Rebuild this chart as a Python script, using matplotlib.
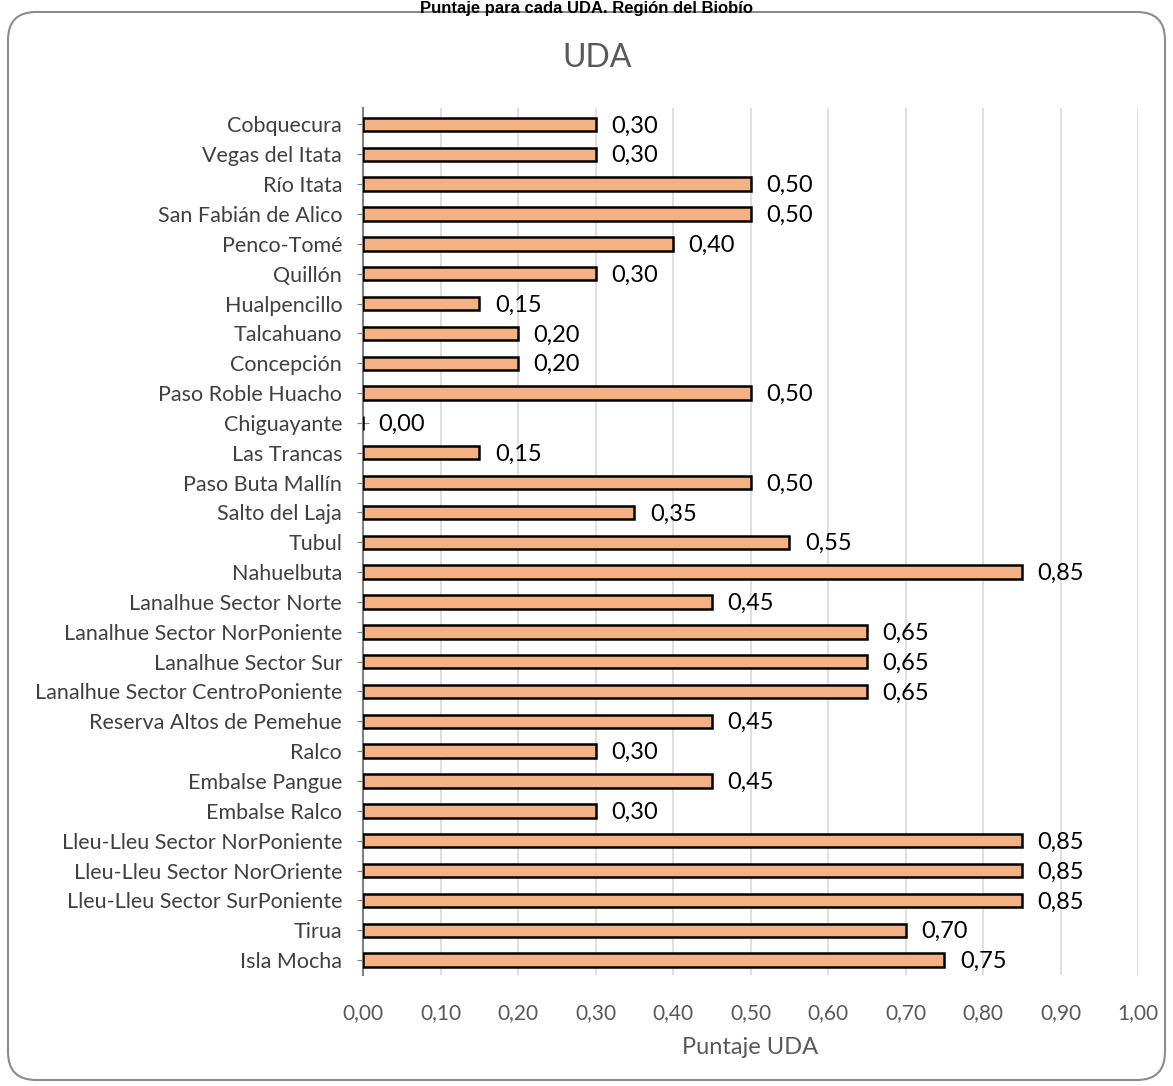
import matplotlib
matplotlib.use('Agg')
import matplotlib.pyplot as plt
import matplotlib.patches as mpatches
from matplotlib.ticker import FuncFormatter

# UDA names, top to bottom as in the chart
udas = ['Cobquecura', 'Vegas del Itata', 'Río Itata', 'San Fabián de Alico',
        'Penco-Tomé', 'Quillón', 'Hualpencillo', 'Talcahuano', 'Concepción',
        'Paso Roble Huacho', 'Chiguayante', 'Las Trancas', 'Paso Buta Mallín',
        'Salto del Laja', 'Tubul', 'Nahuelbuta', 'Lanalhue Sector Norte',
        'Lanalhue Sector NorPoniente', 'Lanalhue Sector Sur',
        'Lanalhue Sector CentroPoniente', 'Reserva Altos de Pemehue', 'Ralco',
        'Embalse Pangue', 'Embalse Ralco', 'Lleu-Lleu Sector NorPoniente',
        'Lleu-Lleu Sector NorOriente', 'Lleu-Lleu Sector SurPoniente',
        'Tirua', 'Isla Mocha']
puntaje = [0.30, 0.30, 0.50, 0.50, 0.40, 0.30, 0.15, 0.20, 0.20, 0.50,
           0.00, 0.15, 0.50, 0.35, 0.55, 0.85, 0.45, 0.65, 0.65, 0.65,
           0.45, 0.30, 0.45, 0.30, 0.85, 0.85, 0.85, 0.70, 0.75]
xticks = [i / 10 for i in range(11)]

plt.rcParams['font.family'] = ['Lato', 'DejaVu Sans']

fig = plt.figure(figsize=(11.73, 10.86), dpi=100)

# rounded frame around the chart (pixel coords)
frame = mpatches.FancyBboxPatch((8, 6), 1157, 1068,
                                boxstyle='round,pad=0,rounding_size=28',
                                transform=None, facecolor='none',
                                edgecolor='#8c8c8c', linewidth=1.5, zorder=-1)
fig.patches.append(frame)

ax = fig.add_axes([0.3095, 0.1022, 0.6607, 0.7983])
ax.set_facecolor('none')

pos = list(range(len(udas)))
ax.barh(pos, puntaje, height=0.45, color='#F4B183', edgecolor='black',
        linewidth=1.8, zorder=3)

for p, v in zip(pos, puntaje):
    ax.text(v + 0.02, p + 0.05, f'{v:.2f}'.replace('.', ','), va='center', ha='left',
            fontsize=17, color='black', zorder=4)

ax.set_xlim(0, 1.0)
ax.set_ylim(28.5, -0.55)
ax.set_xticks(xticks)
ax.xaxis.set_major_formatter(FuncFormatter(lambda x, _: f'{x:.2f}'.replace('.', ',')))
ax.set_yticks(pos)
ax.set_yticklabels(udas)

ax.grid(axis='x', color='#d9d9d9', linewidth=1.2, zorder=0)
ax.set_axisbelow(True)
for s in ['top', 'right', 'bottom']:
    ax.spines[s].set_visible(False)
ax.spines['left'].set_color('#7f7f7f')
ax.spines['left'].set_linewidth(1.5)

ax.tick_params(axis='x', length=0, labelsize=15, labelcolor='#595959', pad=20)
ax.tick_params(axis='y', direction='inout', length=8, color='#7f7f7f',
               labelsize=15.5, labelcolor='#404040', pad=11)

ax.set_xlabel('Puntaje UDA', fontsize=17, color='#595959', labelpad=10)

fig.text(0.509, 0.9466, 'UDA', ha='center', va='center', fontsize=23,
         color='#595959')
fig.text(0.5, 0.9995, 'Puntaje para cada UDA. Región del Biobío', ha='center',
         va='top', fontsize=12, fontweight='bold', family='Liberation Sans')

plt.savefig('out.png', dpi=100)
